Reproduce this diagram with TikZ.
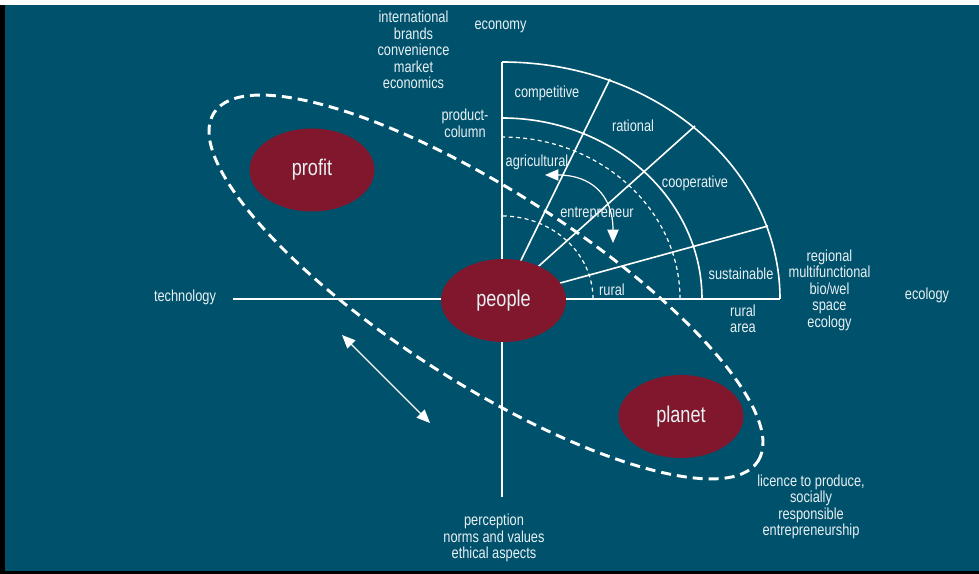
\documentclass[tikz,border=0pt]{standalone}
\usepackage{fontspec}
\setmainfont{Liberation Sans}[FakeStretch=0.8]
\usetikzlibrary{arrows.meta,shapes.geometric}
\definecolor{bg}{RGB}{0,82,108}
\definecolor{maroon}{RGB}{128,23,44}
\definecolor{txt}{RGB}{232,240,244}
\begin{document}
\begin{tikzpicture}[x=0.75pt,y=0.75pt,
  lbl/.style={text=txt, font=\fontsize{12}{12.4}\selectfont, align=center, inner sep=0pt},
  blob/.style={ellipse, fill=maroon, draw=none, minimum width=93.75pt, minimum height=62.25pt, inner sep=0pt, text=txt, font=\fontsize{17}{17}\selectfont},
  quad/.style={draw=white, line width=1.2pt},
  fine/.style={draw=white, line width=0.9pt, dash pattern=on 3pt off 2.5pt},
  loop/.style={draw=white, line width=2.2pt, dash pattern=on 7.5pt off 4.5pt},
  dbl/.style={draw=white, line width=0.9pt, {Triangle[length=10pt,width=8.5pt]}-{Triangle[length=10pt,width=8.5pt]}}]
% background
\fill[white] (0,0) rectangle (979,574);
\fill[black] (0,0) rectangle (979,569);
\fill[bg] (5,3) rectangle (979,569);
\useasboundingbox (0,0) rectangle (979,574);
% axes
\coordinate (O) at (502,275);
\coordinate (vtop) at (502,512);
\coordinate (vbot) at (502,77);
\coordinate (hleft) at (233,275);
\coordinate (hright) at (780,275);
\draw[quad] (vtop) -- (vbot);
\draw[quad] (hleft) -- (hright);
% quadrant arcs
\draw[quad] (hright) arc[start angle=0,end angle=90,x radius=278,y radius=237];
\draw[quad] (702,275) arc[start angle=0,end angle=90,x radius=200,y radius=181];
\draw[fine] (680,275) arc[start angle=0,end angle=90,x radius=178,y radius=162];
\draw[fine] (593,275) arc[start angle=0,end angle=90,x radius=91,y radius=83];
% radial lines
\coordinate (r1) at (610,495);
\coordinate (r2) at (695,448);
\coordinate (r3) at (768,348);
\draw[quad] (O) -- (r1);
\draw[quad] (O) -- (r2);
\draw[quad] (O) -- (r3);
% dashed loop
\draw[loop, rotate around={-32.6:(486,287)}] (486,287) ellipse [x radius=323, y radius=96];
% arrows
\coordinate (a1) at (342,239);
\coordinate (a2) at (430,151);
\draw[dbl] (a1) -- (a2);
\coordinate (c1) at (545,399);
\coordinate (c2) at (613,331);
\draw[dbl] (c1) .. controls (590,399) and (613,380) .. (c2);
% blobs
\node[blob] (profit) at (312,404) {profit};
\node[blob] (people) at (503.5,273.5) {people};
\node[blob] (planet) at (681,157.5) {planet};
% quadrant labels
\node[lbl] (competitive) at (547,481) {competitive};
\node[lbl] (rational) at (633,448) {rational};
\node[lbl] (cooperative) at (695,391) {cooperative};
\node[lbl] (sustainable) at (741,300) {sustainable};
\node[lbl] (rural) at (612,284) {rural};
\node[lbl] (agricultural) at (537,412) {agricultural};
\node[lbl] (entrepreneur) at (597,360) {entrepreneur};
% outer labels
\node[lbl] (intl) at (413.5,524) {international\\brands\\convenience\\market\\economics};
\node[lbl] (economy) at (500.5,547) {economy};
\node[lbl] (product) at (465,450.5) {product-\\column};
\node[lbl] (technology) at (185,277) {technology};
\node[lbl] (regional) at (829.5,284) {regional\\multifunctional\\bio/wel\\space\\ecology};
\node[lbl] (ruralarea) at (743,255) {rural\\area};
\node[lbl] (ecology) at (927,279) {ecology};
\node[lbl] (perception) at (494,36) {perception\\norms and values\\ethical aspects};
\node[lbl] (licence) at (811,67) {licence to produce,\\socially\\responsible\\entrepreneurship};
\end{tikzpicture}
\end{document}
